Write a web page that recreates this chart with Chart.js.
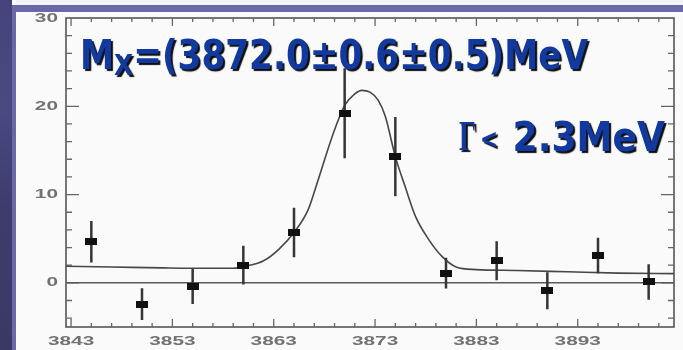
<!DOCTYPE html>
<html>
<head>
<meta charset="utf-8">
<script src="https://cdn.jsdelivr.net/npm/chart.js@4"></script>
<style>
  html, body { margin: 0; padding: 0; background: #fafafa; }
  canvas { display: block; }
</style>
</head>
<body>
<canvas id="massPlot" width="683" height="350"></canvas>
<script>
// J/psi pi+ pi- invariant mass, events per 5 MeV bin
const massBins = [3845, 3850, 3855, 3860, 3865, 3870, 3875, 3880, 3885, 3890, 3895, 3900];
const events   = [4.65, -2.4, -0.4, 2.0, 5.7, 19.2, 14.3, 1.1, 2.5, -0.9, 3.1, 0.1];
const errors   = [2.35, 1.8, 2.0, 2.2, 2.8, 5.1, 4.5, 1.75, 2.2, 2.1, 2.0, 2.0];

// fitted signal + background curve, read along its length
const fitMass   = [3842.5, 3847, 3852, 3856, 3859, 3860.5, 3862, 3863.5, 3865, 3866.4, 3867.2, 3868.9, 3870, 3871, 3871.7, 3872.5, 3873.3, 3874, 3875, 3876, 3877, 3878.3, 3879.6, 3881, 3883, 3887, 3892, 3897, 3902.5];
const fitEvents = [1.88, 1.8, 1.7, 1.65, 1.65, 1.95, 2.5, 3.8, 5.7, 8.3, 11.0, 17.0, 20.1, 21.4, 21.8, 21.6, 20.7, 18.9, 14.3, 10.8, 7.5, 4.9, 3.0, 1.8, 1.5, 1.4, 1.25, 1.1, 1.05];

const xTickLabels = ['3843', '3853', '3863', '3873', '3883', '3893'];
const yTickLabels = ['0', '10', '20', '30'];

const xMin = 3842.5, xMax = 3902.5;
const yMin = -5, yMax = 30;

// black bin marker, wider than tall
const marker = document.createElement('canvas');
marker.width = 12; marker.height = 7;
(function () {
  const m = marker.getContext('2d');
  m.fillStyle = '#111';
  m.fillRect(0, 0, 12, 7);
})();

const errorSegments = [];
massBins.forEach((m, i) => {
  errorSegments.push({ x: m, y: events[i] - errors[i] });
  errorSegments.push({ x: m, y: events[i] + errors[i] });
  errorSegments.push({ x: m, y: null });
});

const slideBackdrop = {
  id: 'slideBackdrop',
  beforeDraw(chart) {
    const ctx = chart.ctx;
    ctx.save();
    ctx.fillStyle = '#fafafa';
    ctx.fillRect(0, 0, 683, 350);
    const g = ctx.createLinearGradient(0, 0, 0, 350);
    g.addColorStop(0, '#44437a');
    g.addColorStop(0.3, '#4a4982');
    g.addColorStop(0.6, '#3d3c6c');
    g.addColorStop(1, '#3a3966');
    ctx.fillStyle = g;
    ctx.fillRect(0, 0, 12, 350);
    ctx.fillStyle = '#6b68a8';
    ctx.fillRect(12, 5, 4, 345);
    ctx.fillRect(12, 5, 671, 7);
    ctx.fillStyle = '#f4f4f8';
    ctx.fillRect(16, 0, 667, 5);
    ctx.restore();
  }
};

function stretchedText(ctx, text, x, y, align) {
  ctx.save();
  ctx.translate(x, y);
  ctx.scale(1.6, 1);
  ctx.textAlign = align;
  ctx.fillText(text, 0, 0);
  ctx.restore();
}

const axisFrame = {
  id: 'axisFrame',
  beforeDatasetsDraw(chart) {
    const ctx = chart.ctx;
    const a = chart.chartArea;
    const xs = chart.scales.x, ys = chart.scales.y;
    ctx.save();
    ctx.strokeStyle = '#555';
    ctx.lineWidth = 1.6;
    ctx.strokeRect(a.left, a.top, a.right - a.left, a.bottom - a.top);

    ctx.lineWidth = 1.3;
    ctx.strokeStyle = '#666';
    ctx.beginPath();
    for (let m = 3843; m <= xMax; m += 2) {
      const px = xs.getPixelForValue(m);
      const len = (m - 3843) % 10 === 0 ? 8 : 4;
      ctx.moveTo(px, a.bottom); ctx.lineTo(px, a.bottom - len);
      ctx.moveTo(px, a.top); ctx.lineTo(px, a.top + len);
    }
    for (let v = -4; v <= 28; v += 2) {
      const py = ys.getPixelForValue(v);
      const len = v % 10 === 0 ? 13 : 6;
      ctx.moveTo(a.left, py); ctx.lineTo(a.left + len, py);
      ctx.moveTo(a.right, py); ctx.lineTo(a.right - len, py);
    }
    ctx.stroke();

    ctx.fillStyle = '#727272';
    ctx.font = 'bold 13px "Liberation Sans", Arial, sans-serif';
    ctx.textBaseline = 'middle';
    xTickLabels.forEach(t => {
      stretchedText(ctx, t, xs.getPixelForValue(Number(t)), a.bottom + 14, 'center');
    });
    yTickLabels.forEach(t => {
      stretchedText(ctx, t, a.left - 8, ys.getPixelForValue(Number(t)), 'right');
    });
    ctx.restore();
  }
};

// draws pieces of text squeezed to span a given width
function fittedRun(ctx, pieces, x, width) {
  let natural = 0;
  pieces.forEach(p => { ctx.font = p.font; p.w = ctx.measureText(p.text).width; natural += p.w; });
  const k = width / natural;
  let cx = x;
  pieces.forEach(p => {
    ctx.save();
    ctx.font = p.font;
    ctx.translate(cx, p.y);
    ctx.scale(k, 1);
    ctx.shadowColor = 'rgba(0,0,0,0.95)';
    ctx.shadowOffsetX = 2;
    ctx.shadowOffsetY = 2;
    ctx.shadowBlur = 1;
    ctx.fillStyle = '#123a9e';
    ctx.fillText(p.text, 0, 0);
    ctx.restore();
    cx += p.w * k;
  });
}

const annotations = {
  id: 'annotations',
  afterDraw(chart) {
    const ctx = chart.ctx;
    ctx.save();
    ctx.textBaseline = 'alphabetic';
    const main = 'bold 40px "DejaVu Sans", sans-serif';
    fittedRun(ctx, [
      { text: 'M', font: main, y: 69 },
      { text: 'X', font: 'bold 29px "DejaVu Sans", sans-serif', y: 75 },
      { text: '=(3872.0±0.6±0.5)MeV', font: main, y: 69 }
    ], 80, 508);
    fittedRun(ctx, [{ text: 'Γ', font: 'bold 42px "Liberation Serif", serif', y: 150 }], 459, 17);
    fittedRun(ctx, [{ text: '<', font: 'bold 27px "DejaVu Sans", sans-serif', y: 148 }], 480, 18);
    fittedRun(ctx, [{ text: ' 2.3MeV', font: main, y: 151 }], 500, 165);
    ctx.restore();
  }
};

new Chart(document.getElementById('massPlot'), {
  type: 'scatter',
  data: {
    datasets: [
      {
        data: massBins.map((m, i) => ({ x: m, y: events[i] })),
        pointStyle: marker,
        pointRadius: 6,
        order: 0
      },
      {
        type: 'line',
        data: errorSegments,
        borderColor: '#363636',
        borderWidth: 2.5,
        pointRadius: 0,
        spanGaps: false,
        order: 1
      },
      {
        type: 'line',
        data: fitMass.map((m, i) => ({ x: m, y: fitEvents[i] })),
        borderColor: '#474747',
        borderWidth: 1.6,
        pointRadius: 0,
        cubicInterpolationMode: 'monotone',
        order: 2
      },
      {
        type: 'line',
        data: [{ x: xMin, y: 0 }, { x: xMax, y: 0 }],
        borderColor: '#5a5a5a',
        borderWidth: 1.5,
        pointRadius: 0,
        order: 3
      }
    ]
  },
  options: {
    responsive: false,
    animation: false,
    layout: { padding: { left: 66, top: 18, right: 9, bottom: 23 } },
    plugins: { legend: { display: false }, tooltip: { enabled: false } },
    scales: {
      x: { type: 'linear', display: false, min: xMin, max: xMax },
      y: { type: 'linear', display: false, min: yMin, max: yMax }
    }
  },
  plugins: [slideBackdrop, axisFrame, annotations]
});
</script>
</body>
</html>
